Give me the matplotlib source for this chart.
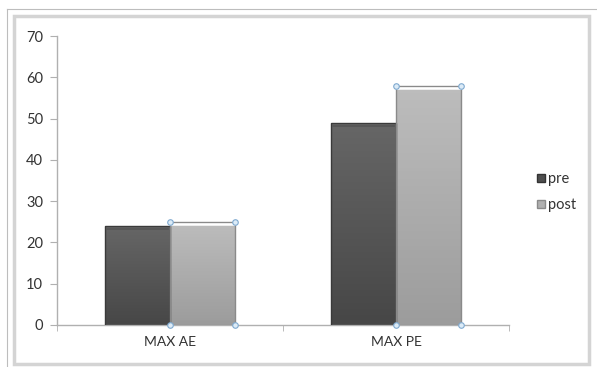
import numpy as np
import matplotlib.pyplot as plt
from matplotlib.patches import Rectangle
from matplotlib.lines import Line2D

categories = ["MAX AE", "MAX PE"]
pre = [24, 49]
post = [25, 58]
series_names = ["pre", "post"]
y_ticks = [0, 10, 20, 30, 40, 50, 60, 70]

plt.rcParams['font.family'] = ['Lato', 'DejaVu Sans']

W, H = 597, 367
fig = plt.figure(figsize=(W / 100, H / 100), dpi=100)
fig.patch.set_facecolor('white')


def fx(px):
    return px / W


def fy(py):
    return 1 - py / H


# window edge lines
fig.add_artist(Line2D([fx(7), fx(597)], [fy(9), fy(9)], color='#bdbdbd',
                      lw=0.8, transform=fig.transFigure))
fig.add_artist(Line2D([fx(7), fx(7)], [fy(9), fy(367)], color='#bdbdbd',
                      lw=0.8, transform=fig.transFigure))
# chart area frame
fig.add_artist(Rectangle((fx(14), fy(364)), fx(589) - fx(14), fy(16) - fy(364),
                         facecolor='none', edgecolor='#d4d4d4', lw=2.5,
                         transform=fig.transFigure))

ax = fig.add_axes([fx(57), fy(325), fx(509) - fx(57), fy(36) - fy(325)])
ax.set_facecolor('none')

width = 0.287
x = np.arange(len(categories))


def gradient_bar(ax, xc, h, top_col, bot_col, edge):
    grad = np.linspace(0, 1, 64).reshape(-1, 1)
    c0 = np.array(plt.matplotlib.colors.to_rgb(bot_col))
    c1 = np.array(plt.matplotlib.colors.to_rgb(top_col))
    img = c0 + (c1 - c0) * grad[..., None]
    left = xc - width / 2
    im = ax.imshow(img, extent=(left, left + width, 0, h), origin='lower',
                   aspect='auto', zorder=2)
    rect = Rectangle((left, 0), width, h, facecolor='none', edgecolor=edge,
                     linewidth=1.0, zorder=3)
    ax.add_patch(rect)
    im.set_clip_path(rect)
    return left


for i in range(len(categories)):
    # pre bars (dark)
    lp = gradient_bar(ax, x[i] - width / 2, pre[i], '#666666', '#474747', '#3a3a3a')
    ax.plot([lp + 0.01, lp + width - 0.01], [pre[i] - 0.8, pre[i] - 0.8],
            color='#555555', lw=1.2, zorder=4)
    # post bars (light)
    lq = gradient_bar(ax, x[i] + width / 2, post[i], '#bdbdbd', '#9c9c9c', '#8a8a8a')
    ax.plot([lq + 0.005, lq + width - 0.005], [post[i] - 0.6, post[i] - 0.6],
            color='white', lw=1.8, zorder=4)
    # selection handles on post bars
    ax.scatter([lq, lq + width, lq, lq + width], [0, 0, post[i], post[i]],
               s=16, facecolor='#dcebf7', edgecolor='#7fa9cf', linewidth=0.8,
               zorder=6, clip_on=False)

ax.set_xlim(-0.5, 1.5)
ax.set_ylim(0, 70)
ax.set_xticks(x)
ax.set_xticklabels(categories)
ax.set_yticks(y_ticks)
for s in ['top', 'right']:
    ax.spines[s].set_visible(False)
for s in ['left', 'bottom']:
    ax.spines[s].set_color('#b0b0b0')
    ax.spines[s].set_linewidth(1.0)
ax.tick_params(axis='y', direction='out', length=5, color='#b0b0b0',
               labelsize=10.5, labelcolor='#333333', pad=5)
ax.tick_params(axis='x', length=0, labelsize=10, labelcolor='#333333', pad=8)
ax.set_xticks([-0.5, 0.5, 1.5], minor=True)
ax.tick_params(axis='x', which='minor', direction='out', length=4, color='#b0b0b0')

handles = [Line2D([], [], marker='s', linestyle='none', markersize=6,
                  markerfacecolor='#4f4f4f', markeredgecolor='#333333'),
           Line2D([], [], marker='s', linestyle='none', markersize=6,
                  markerfacecolor='#b0b0b0', markeredgecolor='#8a8a8a')]
fig.legend(handles, series_names, loc='center left',
           bbox_to_anchor=(fx(522), fy(192)), frameon=False,
           fontsize=10.5, handletextpad=0.1, labelspacing=0.8,
           handlelength=0.8, labelcolor='#333333')

fig.savefig('out.png', dpi=100, facecolor='white')
